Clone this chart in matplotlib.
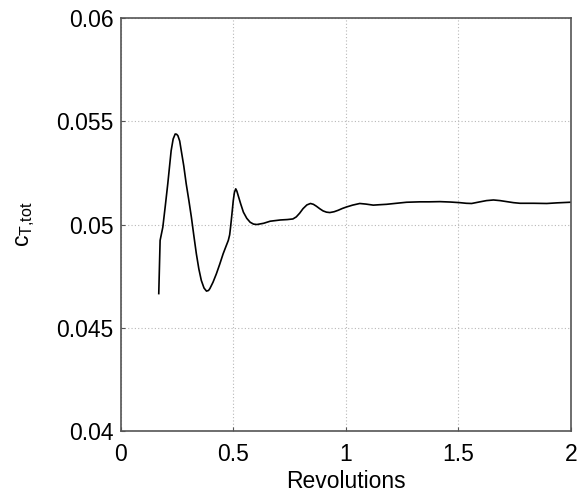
import matplotlib
matplotlib.use("Agg")
from matplotlib import pyplot as plt

plt.rcParams['font.family'] = ['Liberation Sans', 'DejaVu Sans']

# values
revolutions = [0.169, 0.175, 0.187, 0.198, 0.209, 0.224, 0.233, 0.242, 0.248, 0.254, 0.262,
               0.269, 0.280, 0.291, 0.303, 0.314, 0.325, 0.336, 0.347, 0.358, 0.370, 0.381,
               0.390, 0.396, 0.410, 0.425, 0.440, 0.455, 0.468, 0.478, 0.484, 0.488, 0.494,
               0.500, 0.505, 0.511, 0.516, 0.522, 0.533, 0.545, 0.560, 0.575, 0.590, 0.605,
               0.635, 0.664, 0.709, 0.740, 0.765, 0.780, 0.795, 0.810, 0.827, 0.843, 0.856,
               0.869, 0.885, 0.899, 0.914, 0.929, 0.948, 0.966, 0.985, 1.003, 1.030, 1.062,
               1.090, 1.122, 1.150, 1.181, 1.225, 1.270, 1.329, 1.370, 1.418, 1.465, 1.507,
               1.535, 1.559, 1.596, 1.625, 1.656, 1.685, 1.715, 1.745, 1.774, 1.834, 1.893,
               1.938, 1.997]
ct_tot = [0.04665, 0.04923, 0.04987, 0.05090, 0.05197, 0.05358, 0.05415, 0.05439, 0.05438,
          0.05431, 0.05405, 0.05358, 0.05285, 0.05197, 0.05115, 0.05035, 0.04945, 0.04858,
          0.04785, 0.04729, 0.04692, 0.04677, 0.04680, 0.04689, 0.04720, 0.04761, 0.04808,
          0.04858, 0.04895, 0.04923, 0.04950, 0.04987, 0.05050, 0.05116, 0.05155, 0.05173,
          0.05162, 0.05140, 0.05100, 0.05060, 0.05030, 0.05011, 0.05002, 0.05000, 0.05006,
          0.05016, 0.05022, 0.05024, 0.05027, 0.05037, 0.05055, 0.05077, 0.05095, 0.05102,
          0.05098, 0.05089, 0.05076, 0.05066, 0.05060, 0.05058, 0.05062, 0.05069, 0.05078,
          0.05085, 0.05094, 0.05102, 0.05099, 0.05094, 0.05096, 0.05098, 0.05103, 0.05108,
          0.05110, 0.05110, 0.05111, 0.05109, 0.05106, 0.05103, 0.05102, 0.05110, 0.05116,
          0.05119, 0.05116, 0.05111, 0.05106, 0.05103, 0.05103, 0.05102, 0.05105, 0.05108]

x_ticks = [0, 0.5, 1, 1.5, 2]
x_ticklabels = ['0', '0.5', '1', '1.5', '2']
y_ticks = [0.04, 0.045, 0.05, 0.055, 0.06]
y_ticklabels = ['0.04', '0.045', '0.05', '0.055', '0.06']

fig = plt.figure(figsize=(5.79, 4.96), dpi=100)
ax = fig.add_axes([0.2085, 0.1317, 0.7775, 0.8313])

ax.plot(revolutions, ct_tot, color='black', linewidth=1.2)

ax.set_xlim(0, 2)
ax.set_ylim(0.04, 0.06)
ax.set_xticks(x_ticks)
ax.set_xticklabels(x_ticklabels)
ax.set_yticks(y_ticks)
ax.set_yticklabels(y_ticklabels)
ax.grid(True, linestyle=(0, (1, 2)), color='#b8b8b8', linewidth=0.8)
ax.tick_params(direction='in', length=3, color='#555555', labelsize=16.5, pad=5)
ax.tick_params(axis='x', pad=9)
for s in ax.spines.values():
    s.set_color('#555555')
    s.set_linewidth(1.2)

ax.set_xlabel('Revolutions', fontsize=16.5, labelpad=3)
ax.set_ylabel('$\\mathregular{c_{T{,}tot}}$', fontsize=16.5, labelpad=14)

fig.savefig('out.png', dpi=100)
